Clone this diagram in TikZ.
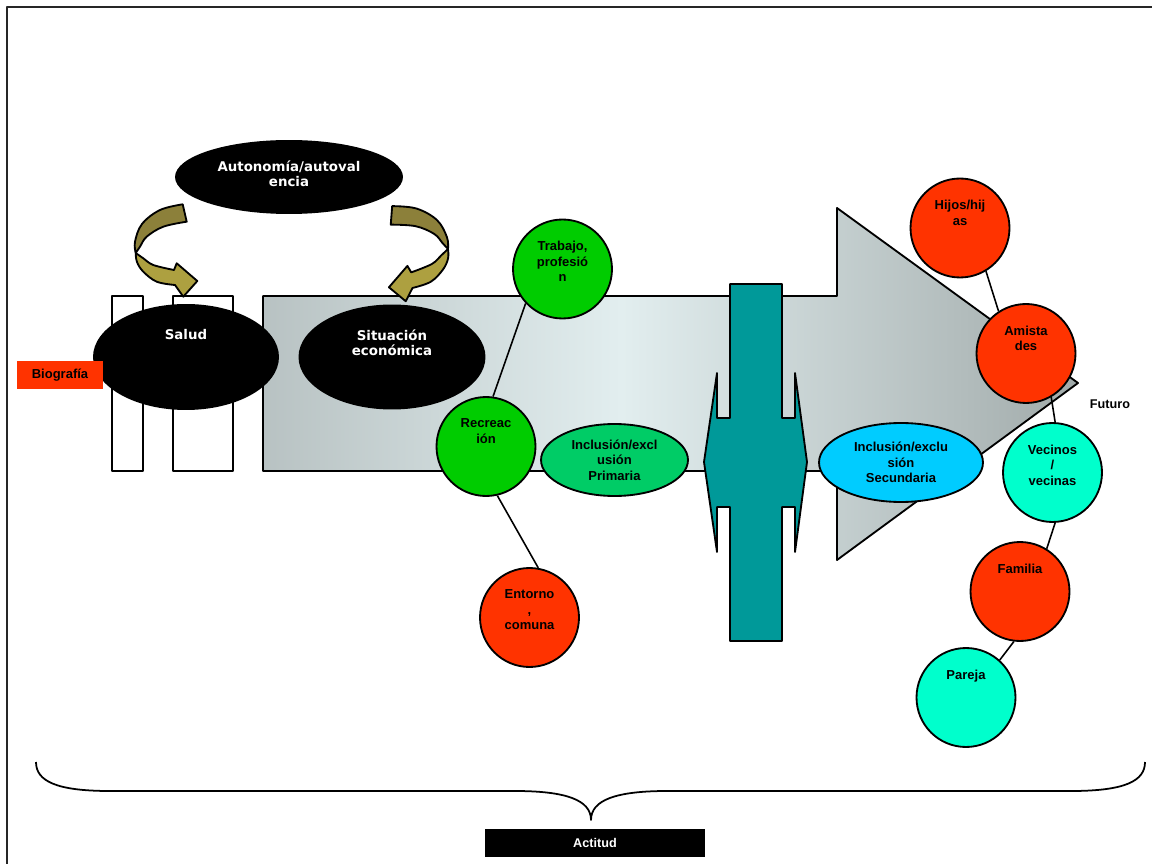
\documentclass[tikz,border=0pt]{standalone}
\usepackage{fontspec}
\setmainfont{Liberation Sans}
\newfontfamily\djv{DejaVu Sans}
\usetikzlibrary{shapes.geometric}
\definecolor{ga1}{RGB}{136,144,144}
\definecolor{ga2}{RGB}{226,238,239}
\definecolor{ga3}{RGB}{178,188,188}
\definecolor{ga4}{RGB}{98,106,104}
\definecolor{tealx}{RGB}{0,153,153}
\definecolor{olvd}{RGB}{140,128,58}
\definecolor{olvl}{RGB}{173,160,64}
\definecolor{grnx}{RGB}{0,204,0}
\definecolor{incp}{RGB}{0,204,102}
\definecolor{incs}{RGB}{0,204,255}
\definecolor{redx}{RGB}{255,51,0}
\definecolor{aqux}{RGB}{0,255,204}
\pgfdeclarehorizontalshading{grayarrow}{100bp}{color(0bp)=(ga1); color(47bp)=(ga2); color(68bp)=(ga3); color(100bp)=(ga4)}
\newcommand\olivearrow{%
  \draw[ol, fill=olvd]
    plot[smooth, tension=0.6] coordinates {(182.7,204.3) (160,210) (142,224) (135,241.7) (135.7,253)}
    -- plot[smooth, tension=0.6] coordinates {(135.7,253) (140,246.7) (146.7,236.7) (163.3,226.7) (186.7,221.7)}
    -- cycle;
  \draw[ol, fill=olvl]
    plot[smooth, tension=0.6] coordinates {(135.7,253) (137,262) (143.3,271.7) (156.7,281.7) (175,285)}
    -- (183.3,296.7) -- (197.3,281) -- (176.7,263.3) -- (174,270)
    -- plot[smooth, tension=0.6] coordinates {(174,270) (153.3,265) (143.3,258.3) (135.7,253)}
    -- cycle;}
\begin{document}
\begin{tikzpicture}[x=0.02cm,y=-0.02cm, line join=round,
  ol/.style={draw=black, line width=1.05pt},
  circ/.style={circle, draw=black, line width=1.05pt, minimum size=1.98cm, inner sep=0pt},
  ctxt/.style={font=\bfseries\fontsize{7.4}{8.8}\selectfont, align=center, inner sep=0pt, anchor=north},
  btxt/.style={font=\djv\bfseries\fontsize{7.6}{8.6}\selectfont, text=white, align=center, inner sep=0pt, anchor=north},
  blk/.style={ellipse, fill=black, inner sep=0pt},
  incl/.style={ellipse, draw=black, line width=1.05pt, inner sep=0pt, align=center, font=\bfseries\fontsize{7.4}{8.8}\selectfont},
  link/.style={line width=0.9pt}]

\useasboundingbox (0,0) rectangle (1152,864);
\fill[white] (0,0) rectangle (1152,864);
\draw[line width=1.2pt, black!85] (7,864) -- (7,7) -- (1152,7);

% white bars
\draw[ol, fill=white] (112,296) rectangle (143,471);
\draw[ol, fill=white] (173,296) rectangle (233,471);

% big gray arrow
\shadedraw[ol, shading=grayarrow] (263,296) -- (837,296) -- (837,208) -- (1078,383) -- (837,560) -- (837,471) -- (263,471) -- cycle;

% teal cross
\draw[ol, fill=tealx] (730,284) -- (782,284) -- (782,418) -- (795,418) -- (795,373) -- (807,462) -- (795,552) -- (795,507) -- (782,507) -- (782,641) -- (730,641) -- (730,507) -- (717,507) -- (717,552) -- (704,462) -- (717,373) -- (717,418) -- (730,418) -- cycle;

% black ellipses
\node[blk, minimum width=4.56cm, minimum height=1.48cm] (auto) at (289,177) {};
\node[blk, minimum width=3.72cm, minimum height=2.12cm] (salud) at (186,357) {};
\node[blk, minimum width=3.74cm, minimum height=2.1cm] (econ) at (392,357) {};
\node[btxt] (autot) at ([yshift=-0.42cm]auto.north) {Autonomía/autoval\\encia};
\node[btxt] (saludt) at ([yshift=-0.5cm]salud.north) {Salud};
\node[btxt] (econt) at ([yshift=-0.5cm]econ.north) {Situación\\económica};

% Biografia
\node[fill=redx, minimum width=1.72cm, minimum height=0.56cm, inner sep=0pt, font=\bfseries\fontsize{7.4}{8}\selectfont] (bio) at (60,375) {Biografía};

% olive curved arrows
\begin{scope}
  \olivearrow
\end{scope}
\begin{scope}[shift={(448,249)}, rotate=8.5, scale=1.04, xscale=-1, shift={(-135.7,-253)}]
  \olivearrow
\end{scope}

% circles
\node[circ, fill=grnx] (trab) at (562.5,269) {};
\node[circ, fill=grnx] (rec) at (486,446.5) {};
\node[circ, fill=redx] (ent) at (529.5,617.5) {};
\node[circ, fill=redx] (hij) at (960,228) {};
\node[circ, fill=redx] (ami) at (1026,353.5) {};
\node[circ, fill=aqux] (vec) at (1052.5,472.5) {};
\node[circ, fill=redx] (fam) at (1020,591.5) {};
\node[circ, fill=aqux] (par) at (966,697.5) {};

% inclusion ellipses
\node[incl, fill=incp, minimum width=2.94cm, minimum height=1.44cm] (prim) at (614.5,460) {Inclusión/excl\\usión\\Primaria};
\node[incl, fill=incs, minimum width=3.28cm, minimum height=1.58cm] (sec) at (901,462.5) {Inclusión/exclu\\sión\\Secundaria};

% links
\draw[link] (trab.223) -- (rec.82);
\draw[link] (rec.-77) -- (ent.80);
\draw[link] (hij.-59) -- (ami.123);
\draw[link] (ami.-60) -- (vec.87);
\draw[link] (vec.-87) -- (fam.58);
\draw[link] (fam.-97) -- (par.48);

% circle texts
\node[ctxt] (trabt) at ([yshift=-0.45cm]trab.north) {Trabajo,\\profesió\\n};
\node[ctxt] (rect) at ([yshift=-0.45cm]rec.north) {Recreac\\ión};
\node[ctxt] (entt) at ([yshift=-0.45cm]ent.north) {Entorno\\,\\comuna};
\node[ctxt] (hijt) at ([yshift=-0.45cm]hij.north) {Hijos/hij\\as};
\node[ctxt] (amit) at ([yshift=-0.45cm]ami.north) {Amista\\des};
\node[ctxt] (vect) at ([yshift=-0.45cm]vec.north) {Vecinos\\/\\vecinas};
\node[ctxt] (famt) at ([yshift=-0.45cm]fam.north) {Familia};
\node[ctxt] (part) at ([yshift=-0.45cm]par.north) {Pareja};

\node[font=\bfseries\fontsize{7.2}{8}\selectfont, inner sep=0pt] (fut) at (1110,404) {Futuro};

% brace
\draw[line width=1pt] (36,762) .. controls (36,781) and (56,791) .. (110,791) -- (515,791)
  .. controls (566,791) and (591,800) .. (591,820)
  .. controls (591,800) and (616,791) .. (667,791) -- (1071,791)
  .. controls (1125,791) and (1145,781) .. (1145,762);

% Actitud
\node[fill=black, text=white, minimum width=4.4cm, minimum height=0.56cm, inner sep=0pt, font=\bfseries\fontsize{7.2}{8}\selectfont] (act) at (595,843) {Actitud};
\end{tikzpicture}
\end{document}
